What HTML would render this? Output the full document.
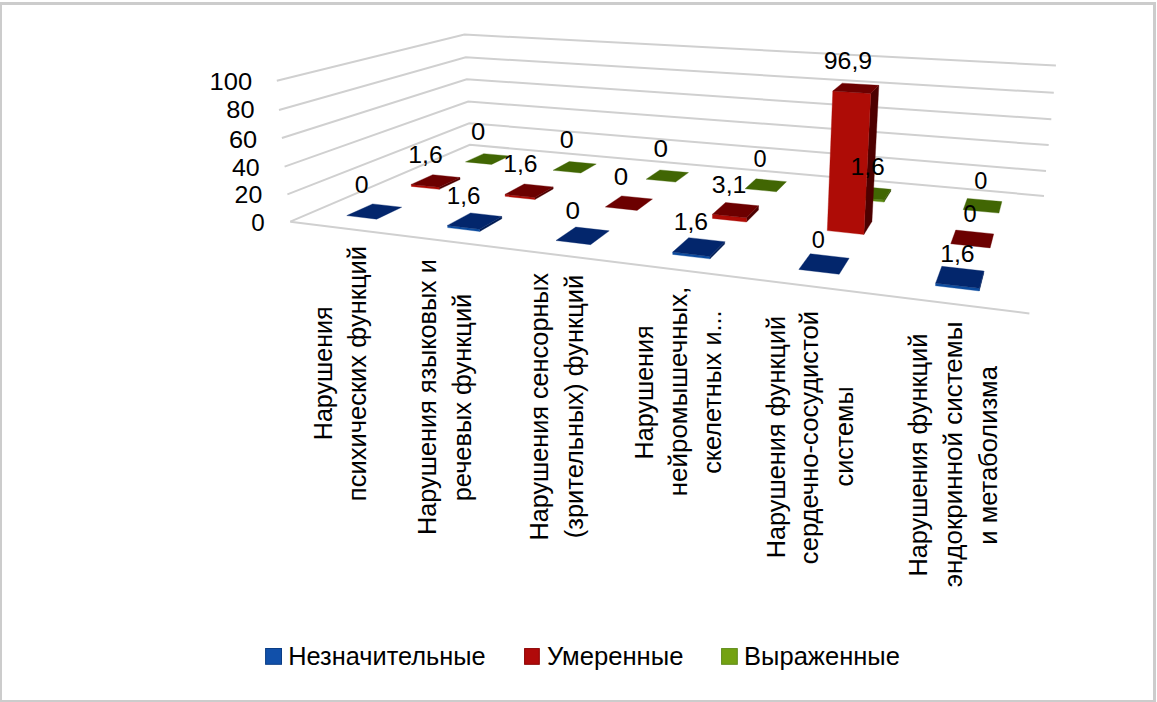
<!DOCTYPE html>
<html><head><meta charset="utf-8"><style>
html,body{margin:0;padding:0;background:#fff;}
body{width:1157px;height:702px;overflow:hidden;position:relative;}
.frame{position:absolute;left:0;top:2px;width:1156px;height:700px;box-sizing:border-box;border-left:2px solid #cccccc;border-top:3px solid #cccccc;border-right:3px solid #cccccc;border-bottom:2px solid #cccccc;}
svg{position:absolute;left:0;top:0;}
text{font-family:"Liberation Sans",sans-serif;fill:#000;}
</style></head><body>
<div class="frame"></div>
<svg width="1157" height="702" viewBox="0 0 1157 702">
<polyline points="276.80,80.70 464.40,34.50 1055.90,65.60" fill="none" stroke="#d0d0d0" stroke-width="2"/>
<polyline points="279.00,110.00 465.70,57.20 1053.80,92.80" fill="none" stroke="#d0d0d0" stroke-width="2"/>
<polyline points="281.90,138.00 466.70,79.20 1051.30,119.20" fill="none" stroke="#d0d0d0" stroke-width="2"/>
<polyline points="284.60,166.60 468.20,101.60 1048.70,145.10" fill="none" stroke="#d0d0d0" stroke-width="2"/>
<polyline points="287.40,194.40 469.20,123.20 1046.00,171.00" fill="none" stroke="#d0d0d0" stroke-width="2"/>
<polyline points="290.30,221.70 469.80,144.80 1044.00,195.90" fill="none" stroke="#d0d0d0" stroke-width="2"/>
<line x1="290.3" y1="221.7" x2="1029.4" y2="313.5" stroke="#d0d0d0" stroke-width="2"/>
<polygon points="465.47,161.89 483.73,153.63 509.21,155.99 491.58,164.39" fill="#416603" stroke="#416603" stroke-width="0.35" stroke-linejoin="round"/>
<polygon points="553.12,170.30 569.24,161.55 596.23,164.05 580.82,172.96" fill="#416603" stroke="#416603" stroke-width="0.35" stroke-linejoin="round"/>
<polygon points="646.17,179.24 659.85,169.94 688.48,172.59 675.60,182.06" fill="#416603" stroke="#416603" stroke-width="0.35" stroke-linejoin="round"/>
<polygon points="745.13,188.74 756.03,178.85 786.46,181.67 776.47,191.75" fill="#416603" stroke="#416603" stroke-width="0.35" stroke-linejoin="round"/>
<polygon points="884.03,202.08 890.71,191.32 890.82,189.33 884.14,200.02" fill="#2f4a00" stroke="#2f4a00" stroke-width="0.35" stroke-linejoin="round"/>
<polygon points="850.58,198.86 884.03,202.08 884.14,200.02 850.67,196.82" fill="#5a8a10" stroke="#5a8a10" stroke-width="0.35" stroke-linejoin="round"/>
<polygon points="850.67,196.82 858.41,186.35 890.82,189.33 884.14,200.02" fill="#416603" stroke="#416603" stroke-width="0.35" stroke-linejoin="round"/>
<polygon points="963.19,209.68 967.30,198.42 1001.86,201.62 998.95,213.11" fill="#416603" stroke="#416603" stroke-width="0.35" stroke-linejoin="round"/>
<polygon points="439.22,189.35 460.07,179.41 459.97,177.49 439.11,187.36" fill="#4d0000" stroke="#4d0000" stroke-width="0.35" stroke-linejoin="round"/>
<polygon points="411.33,186.38 439.22,189.35 439.11,187.36 411.20,184.41" fill="#ae0c06" stroke="#ae0c06" stroke-width="0.35" stroke-linejoin="round"/>
<polygon points="411.20,184.41 432.76,174.72 459.97,177.49 439.11,187.36" fill="#6c0000" stroke="#6c0000" stroke-width="0.35" stroke-linejoin="round"/>
<polygon points="534.90,199.52 553.21,188.93 553.15,186.95 534.83,197.47" fill="#4d0000" stroke="#4d0000" stroke-width="0.35" stroke-linejoin="round"/>
<polygon points="505.16,196.36 534.90,199.52 534.83,197.47 505.07,194.33" fill="#ae0c06" stroke="#ae0c06" stroke-width="0.35" stroke-linejoin="round"/>
<polygon points="505.07,194.33 524.20,184.01 553.15,186.95 534.83,197.47" fill="#6c0000" stroke="#6c0000" stroke-width="0.35" stroke-linejoin="round"/>
<polygon points="605.30,207.00 621.62,195.92 652.48,199.07 637.10,210.39" fill="#6c0000" stroke="#6c0000" stroke-width="0.35" stroke-linejoin="round"/>
<polygon points="746.49,222.02 758.49,209.90 758.58,205.82 746.57,217.80" fill="#4d0000" stroke="#4d0000" stroke-width="0.35" stroke-linejoin="round"/>
<polygon points="712.43,218.39 746.49,222.02 746.57,217.80 712.47,214.21" fill="#ae0c06" stroke="#ae0c06" stroke-width="0.35" stroke-linejoin="round"/>
<polygon points="712.47,214.21 725.56,202.49 758.58,205.82 746.57,217.80" fill="#6c0000" stroke="#6c0000" stroke-width="0.35" stroke-linejoin="round"/>
<polygon points="863.87,234.50 871.95,221.50 878.86,85.37 870.76,93.43" fill="#4d0000" stroke="#4d0000" stroke-width="0.35" stroke-linejoin="round"/>
<polygon points="827.29,230.61 863.87,234.50 870.76,93.43 832.80,91.00" fill="#ae0c06" stroke="#ae0c06" stroke-width="0.35" stroke-linejoin="round"/>
<polygon points="832.80,91.00 842.24,83.13 878.86,85.37 870.76,93.43" fill="#6c0000" stroke="#6c0000" stroke-width="0.35" stroke-linejoin="round"/>
<polygon points="950.76,243.74 955.75,230.06 993.69,233.93 990.15,247.92" fill="#6c0000" stroke="#6c0000" stroke-width="0.35" stroke-linejoin="round"/>
<polygon points="346.77,215.58 372.59,203.91 401.71,207.23 376.69,219.15" fill="#03266c" stroke="#03266c" stroke-width="0.35" stroke-linejoin="round"/>
<polygon points="479.74,231.43 501.85,218.64 501.76,216.48 479.64,229.19" fill="#021d55" stroke="#021d55" stroke-width="0.35" stroke-linejoin="round"/>
<polygon points="447.64,227.60 479.74,231.43 479.64,229.19 447.51,225.39" fill="#0d4c9f" stroke="#0d4c9f" stroke-width="0.35" stroke-linejoin="round"/>
<polygon points="447.51,225.39 470.57,212.95 501.76,216.48 479.64,229.19" fill="#03266c" stroke="#03266c" stroke-width="0.35" stroke-linejoin="round"/>
<polygon points="555.99,240.51 575.78,227.06 609.24,230.87 590.55,244.63" fill="#03266c" stroke="#03266c" stroke-width="0.35" stroke-linejoin="round"/>
<polygon points="710.00,258.86 724.69,244.03 724.72,241.72 710.02,256.47" fill="#021d55" stroke="#021d55" stroke-width="0.35" stroke-linejoin="round"/>
<polygon points="672.71,254.41 710.00,258.86 710.02,256.47 672.71,252.05" fill="#0d4c9f" stroke="#0d4c9f" stroke-width="0.35" stroke-linejoin="round"/>
<polygon points="672.71,252.05 688.70,237.64 724.72,241.72 710.02,256.47" fill="#03266c" stroke="#03266c" stroke-width="0.35" stroke-linejoin="round"/>
<polygon points="798.80,269.44 810.29,253.78 849.13,258.21 839.16,274.25" fill="#03266c" stroke="#03266c" stroke-width="0.35" stroke-linejoin="round"/>
<polygon points="979.26,290.94 983.67,273.54 983.86,271.06 979.47,288.36" fill="#021d55" stroke="#021d55" stroke-width="0.35" stroke-linejoin="round"/>
<polygon points="935.43,285.72 979.26,290.94 979.47,288.36 935.61,283.17" fill="#0d4c9f" stroke="#0d4c9f" stroke-width="0.35" stroke-linejoin="round"/>
<polygon points="935.61,283.17 941.80,266.30 983.86,271.06 979.47,288.36" fill="#03266c" stroke="#03266c" stroke-width="0.35" stroke-linejoin="round"/>
<text transform="translate(354.71,192.90) scale(1.0140,1)" font-size="24.5">0</text>
<text transform="translate(408.24,162.60) scale(1.0124,1)" font-size="24.5">1,6</text>
<text transform="translate(471.07,140.20) scale(1.0483,1)" font-size="24.5">0</text>
<text transform="translate(446.79,203.60) scale(0.9867,1)" font-size="24.5">1,6</text>
<text transform="translate(503.15,171.50) scale(1.0092,1)" font-size="24.5">1,6</text>
<text transform="translate(559.80,148.10) scale(1.0226,1)" font-size="24.5">0</text>
<text transform="translate(565.46,218.50) scale(1.0655,1)" font-size="24.5">0</text>
<text transform="translate(613.76,185.30) scale(1.0569,1)" font-size="24.5">0</text>
<text transform="translate(653.46,157.30) scale(1.0655,1)" font-size="24.5">0</text>
<text transform="translate(673.75,229.90) scale(1.0092,1)" font-size="24.5">1,6</text>
<text transform="translate(711.80,192.60) scale(1.0173,1)" font-size="24.5">3,1</text>
<text transform="translate(753.56,167.30) scale(0.9624,1)" font-size="24.5">0</text>
<text transform="translate(811.76,247.90) scale(0.9624,1)" font-size="24.5">0</text>
<text transform="translate(823.78,69.40) scale(1.0144,1)" font-size="24.5">96,9</text>
<text transform="translate(850.45,175.20) scale(1.0092,1)" font-size="24.5">1,6</text>
<text transform="translate(940.14,261.80) scale(1.0124,1)" font-size="24.5">1,6</text>
<text transform="translate(963.46,222.20) scale(0.9624,1)" font-size="24.5">0</text>
<text transform="translate(974.16,188.50) scale(0.9624,1)" font-size="24.5">0</text>
<text transform="translate(209.48,89.60) scale(1.0428,1)" font-size="24.5">100</text>
<text transform="translate(226.36,118.40) scale(1.0353,1)" font-size="24.5">80</text>
<text transform="translate(228.93,147.80) scale(1.0364,1)" font-size="24.5">60</text>
<text transform="translate(231.98,175.60) scale(1.0194,1)" font-size="24.5">40</text>
<text transform="translate(234.55,202.60) scale(1.0164,1)" font-size="24.5">20</text>
<text transform="translate(251.33,230.60) scale(0.9882,1)" font-size="24.5">0</text>
<text transform="translate(332.00,440.21) rotate(-90) scale(0.9965,1)" font-size="25.2">Нарушения</text>
<text transform="translate(366.40,501.19) rotate(-90) scale(1.0130,1)" font-size="25.2">психических функций</text>
<text transform="translate(436.30,534.92) rotate(-90) scale(1.0025,1)" font-size="25.2">Нарушения языковых и</text>
<text transform="translate(471.20,501.25) rotate(-90) scale(1.0079,1)" font-size="25.2">речевых функций</text>
<text transform="translate(548.20,540.42) rotate(-90) scale(1.0006,1)" font-size="25.2">Нарушения сенсорных</text>
<text transform="translate(582.60,538.23) rotate(-90) scale(1.0102,1)" font-size="25.2">(зрительных) функций</text>
<text transform="translate(652.70,459.41) rotate(-90) scale(0.9980,1)" font-size="25.2">Нарушения</text>
<text transform="translate(686.70,496.22) rotate(-90) scale(1.0295,1)" font-size="25.2">нейромышечных,</text>
<text transform="translate(721.00,473.83) rotate(-90) scale(1.0008,1)" font-size="25.2">скелетных и...</text>
<text transform="translate(784.70,558.22) rotate(-90) scale(1.0022,1)" font-size="25.2">Нарушения функций</text>
<text transform="translate(818.40,564.15) rotate(-90) scale(1.0163,1)" font-size="25.2">сердечно-сосудистой</text>
<text transform="translate(852.90,486.43) rotate(-90) scale(1.0006,1)" font-size="25.2">системы</text>
<text transform="translate(927.30,576.62) rotate(-90) scale(1.0043,1)" font-size="25.2">Нарушения функций</text>
<text transform="translate(961.50,587.28) rotate(-90) scale(1.0317,1)" font-size="25.2">эндокринной системы</text>
<text transform="translate(996.50,544.69) rotate(-90) scale(1.0124,1)" font-size="25.2">и метаболизма</text>
<rect x="265.6" y="648.5" width="15.9" height="15.8" fill="#1150aa" stroke="#0b3d85" stroke-width="1"/>
<rect x="524.6" y="648.6" width="14.7" height="15.7" fill="#b00a0a" stroke="#8a0000" stroke-width="1"/>
<rect x="721.6" y="648.6" width="15.7" height="15.7" fill="#74a212" stroke="#5e8a1a" stroke-width="1"/>
<text transform="translate(288.27,664.60) scale(1.0067,1)" font-size="25.2">Незначительные</text>
<text transform="translate(546.93,664.60) scale(1.0181,1)" font-size="25.2">Умеренные</text>
<text transform="translate(744.06,664.60) scale(1.0141,1)" font-size="25.2">Выраженные</text>
</svg>
</body></html>
